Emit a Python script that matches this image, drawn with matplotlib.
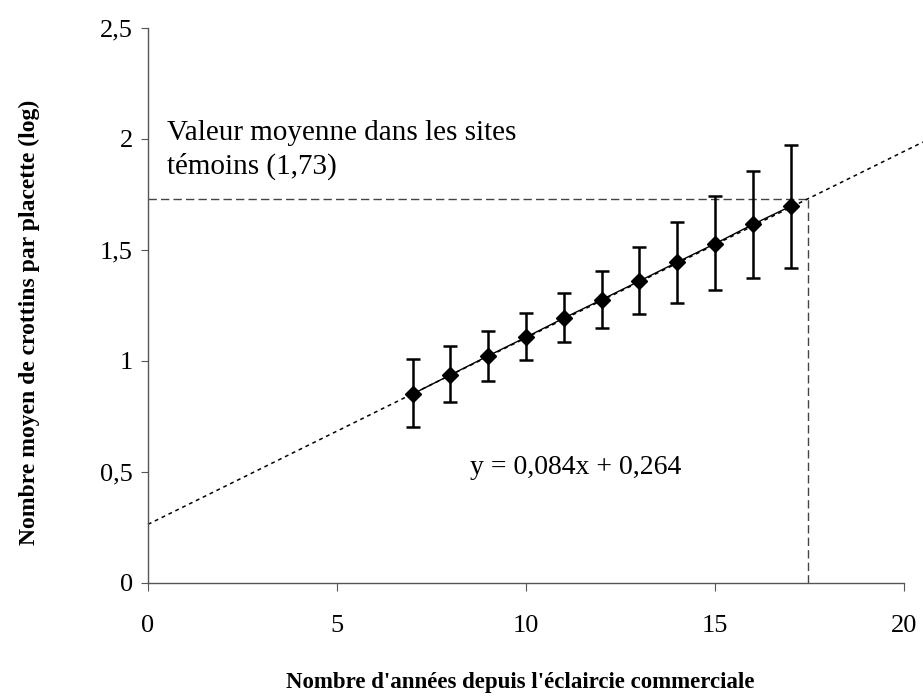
import numpy as np
import matplotlib.pyplot as plt

plt.rcParams['font.family'] = ['Liberation Serif', 'DejaVu Serif']

# Data
years = [7, 8, 9, 10, 11, 12, 13, 14, 15, 16, 17]
mean_log = [0.851, 0.937, 1.023, 1.107, 1.193, 1.276, 1.360, 1.445, 1.528, 1.615, 1.697]
err_low = [0.704, 0.814, 0.910, 1.005, 1.086, 1.148, 1.211, 1.262, 1.321, 1.372, 1.419]
err_high = [1.008, 1.068, 1.137, 1.218, 1.305, 1.405, 1.513, 1.624, 1.741, 1.857, 1.975]

slope = 0.084
intercept = 0.264
control_value = 1.73

x_ticks = [0, 5, 10, 15, 20]
y_ticks = [0, 0.5, 1, 1.5, 2, 2.5]
y_tick_labels = ['0', '0,5', '1', '1,5', '2', '2,5']

mean_log = np.array(mean_log)
yerr = [mean_log - np.array(err_low), np.array(err_high) - mean_log]
x_cross = (control_value - intercept) / slope

fig = plt.figure(figsize=(9.23, 6.96), dpi=100)
ax = fig.add_axes([0.1603, 0.1624, 0.8191, 0.7974])

# trend line (dotted), extends past the axis on the right
xt = np.array([0, 20.5])
ax.plot(xt, slope * xt + intercept, color='black', lw=1.1, linestyle=(0, (2.5, 2.5)),
        clip_on=False, zorder=2)

# control-site reference lines
ax.plot([0, x_cross], [control_value, control_value], color='#444444', lw=1.0,
        linestyle=(0, (6, 3)), zorder=1)
ax.plot([x_cross, x_cross], [0, control_value], color='#444444', lw=1.0,
        linestyle=(0, (6, 3)), zorder=1)

# means with error bars
ax.errorbar(years, mean_log, yerr=yerr, fmt='D-', color='black', ms=8, lw=1.0,
            elinewidth=1.8, capsize=5, capthick=1.8, zorder=3)

ax.set_xlim(0, 20)
ax.set_ylim(0, 2.5)
ax.set_xticks(x_ticks)
ax.set_yticks(y_ticks)
ax.set_yticklabels(y_tick_labels)
ax.spines['top'].set_visible(False)
ax.spines['right'].set_visible(False)
for s in ['left', 'bottom']:
    ax.spines[s].set_color('#555555')
    ax.spines[s].set_linewidth(1.0)
ax.tick_params(axis='x', direction='out', length=6, pad=17, labelsize=19, color='#555555')
ax.tick_params(axis='y', direction='out', length=5, pad=6, labelsize=19, color='#555555')

ax.set_xlabel("Nombre d'années depuis l'éclaircie commerciale", fontsize=16.5,
              fontweight='bold')
ax.set_ylabel("Nombre moyen de crottins par placette (log)", fontsize=17,
              fontweight='bold')
ax.xaxis.set_label_coords(0.492, -0.160)
ax.yaxis.set_label_coords(-0.143, 0.47)

ax.text(0.5, 1.95, "Valeur moyenne dans les sites\ntémoins (1,73)", fontsize=21,
        va='center', ha='left', linespacing=1.3)
ax.text(8.52, 0.52, "y = 0,084x + 0,264", fontsize=20, va='center', ha='left')

fig.savefig('out.png', dpi=100)
